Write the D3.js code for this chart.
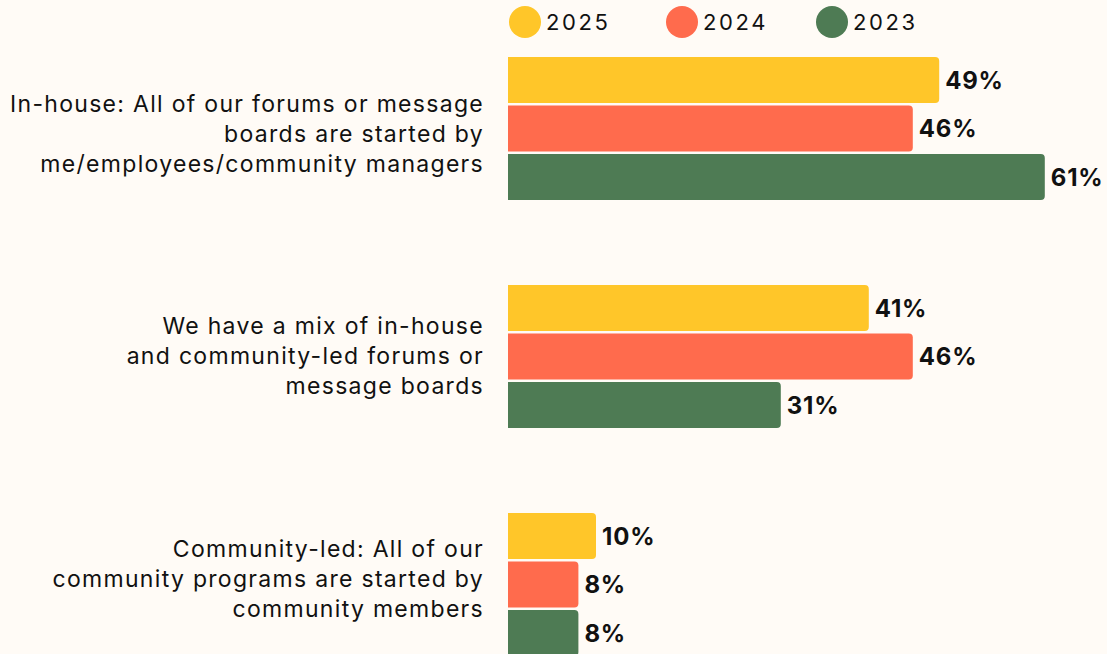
<!DOCTYPE html>
<html>
<head>
<meta charset="utf-8">
<script src="https://cdn.jsdelivr.net/npm/d3@7"></script>
<style>
  html, body { margin: 0; padding: 0; background: #fffbf6; }
  svg { display: block; font-family: "Inter", "DejaVu Sans", sans-serif; }
</style>
</head>
<body>
<svg id="chart"></svg>
<script>
// data
var categories = [
  ['In-house: All of our forums or message', 'boards are started by', 'me/employees/community managers'],
  ['We have a mix of in-house', 'and community-led forums or', 'message boards'],
  ['Community-led: All of our', 'community programs are started by', 'community members']
];
var years = ['2025', '2024', '2023'];
var values2025 = [49, 41, 10];
var values2024 = [46, 46, 8];
var values2023 = [61, 31, 8];
var colors = ['#ffc629', '#ff6b4d', '#4e7b54'];

var width = 1107, height = 654;
var svg = d3.select('#chart').attr('width', width).attr('height', height);

var x0 = 508;
var x = d3.scaleLinear().domain([0, 100]).range([x0, x0 + 880]);

var groupY = d3.scaleBand()
  .domain(d3.range(categories.length))
  .range([57, 57 + 228 * 3]);

var barH = 46, barStep = 48.5;
var series = [values2025, values2024, values2023];
// vertical centre of each category label, relative to its group top
var labelCenters = [77, 71, 66];

function barPath(x1, y, w, h, r) {
  r = Math.min(r, w);
  return 'M' + x1 + ',' + y +
    'H' + (x1 + w - r) +
    'Q' + (x1 + w) + ',' + y + ' ' + (x1 + w) + ',' + (y + r) +
    'V' + (y + h - r) +
    'Q' + (x1 + w) + ',' + (y + h) + ' ' + (x1 + w - r) + ',' + (y + h) +
    'H' + x1 + 'Z';
}

var groups = svg.selectAll('g.cat')
  .data(categories)
  .enter()
  .append('g')
  .attr('class', 'cat')
  .attr('transform', function(d, i) { return 'translate(0,' + groupY(i) + ')'; });

groups.each(function(lines, ci) {
  var g = d3.select(this);
  series.forEach(function(vals, si) {
    var y = si * barStep;
    var v = vals[ci];
    g.append('path')
      .attr('d', barPath(x(0), y, x(v) - x(0), barH, 4))
      .attr('fill', colors[si]);
    g.append('text')
      .attr('x', x(v) + 6)
      .attr('y', y + barH / 2)
      .attr('dy', '0.36em')
      .attr('font-size', 24)
      .attr('font-weight', 700)
      .attr('letter-spacing', '0.8')
      .attr('fill', '#111')
      .text(v + '%');
  });
  g.append('text')
    .attr('text-anchor', 'end')
    .attr('font-size', 23)
    .attr('fill', '#111')
    .attr('letter-spacing', '1.3')
    .selectAll('tspan')
    .data(lines)
    .enter()
    .append('tspan')
    .attr('x', 484)
    .attr('y', function(d, i) { return labelCenters[ci] + (i - 1) * 30; })
    .attr('dy', '0.36em')
    .text(function(d) { return d; });
});

// legend
var legendX = [525, 682, 832];
var legend = svg.selectAll('g.legend')
  .data(years)
  .enter()
  .append('g')
  .attr('class', 'legend')
  .attr('transform', function(d, i) { return 'translate(' + legendX[i] + ',22)'; });

legend.append('circle')
  .attr('r', 16)
  .attr('fill', function(d, i) { return colors[i]; });

legend.append('text')
  .attr('x', 21)
  .attr('dy', '0.36em')
  .attr('font-size', 22)
  .attr('letter-spacing', '2.6')
  .attr('fill', '#111')
  .text(function(d) { return d; });
</script>
</body>
</html>
